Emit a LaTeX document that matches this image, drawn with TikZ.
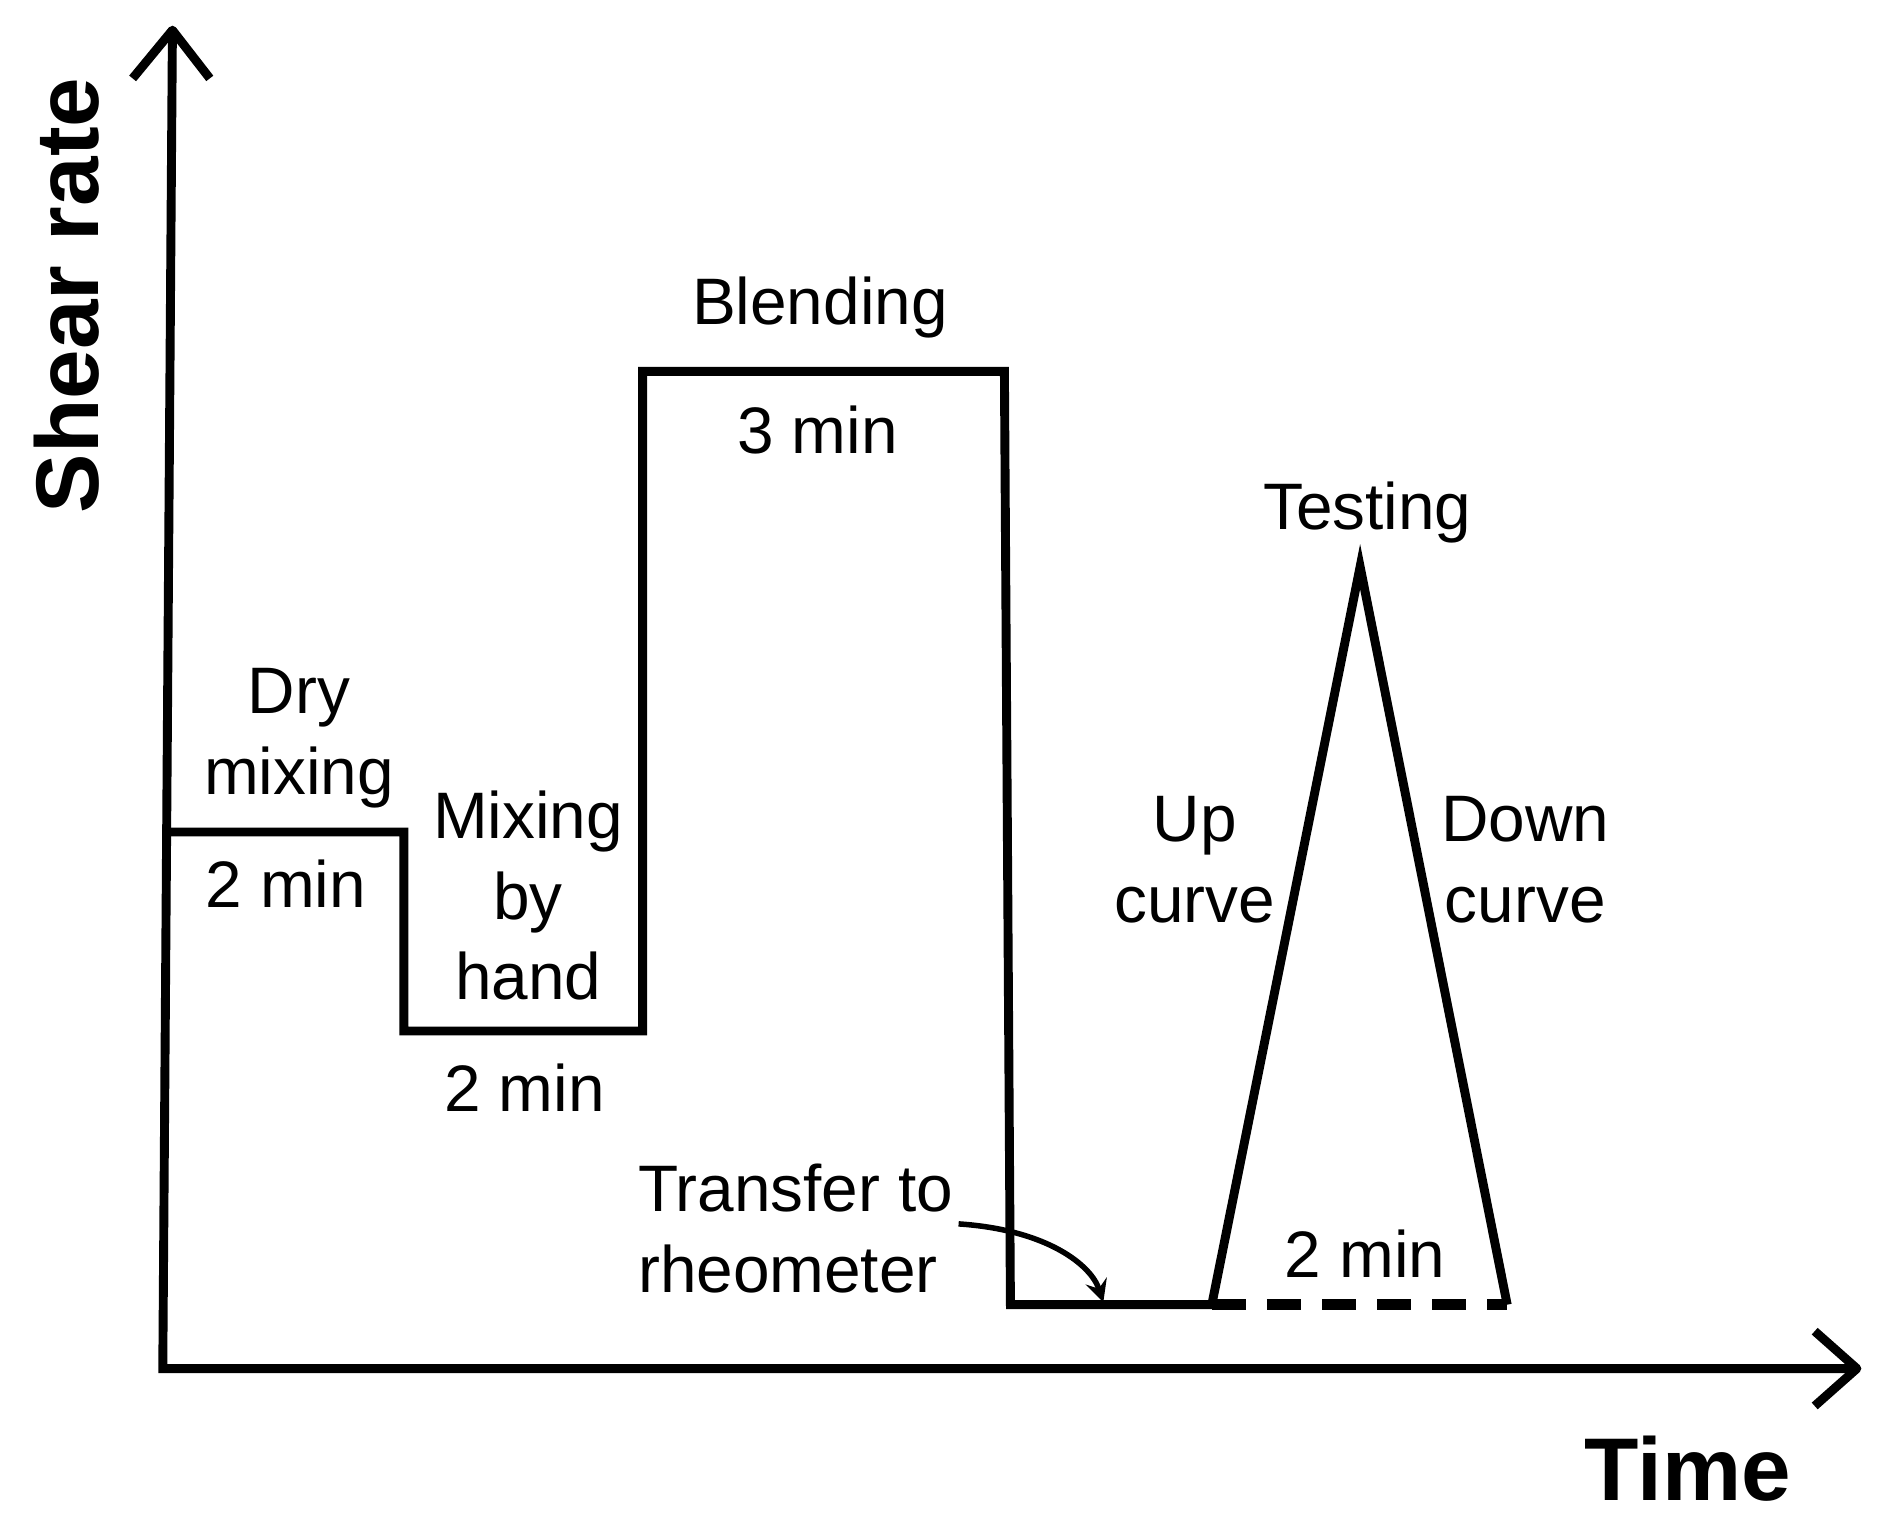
\documentclass[tikz,border=0pt]{standalone}
\usepackage{fontspec}
\setmainfont{Liberation Sans}
\begin{document}
\begin{tikzpicture}[x=0.01cm,y=-0.01cm,
  lbl/.style={font=\fontsize{15.5}{19}\selectfont,align=center,inner sep=0pt},
  ax/.style={font=\fontsize{21}{24}\selectfont\bfseries,inner sep=0pt},
  thick line/.style={line width=2.1pt,line join=miter}]
\useasboundingbox (0,0) rectangle (1560,1265);
\coordinate (o) at (135,1135);
\coordinate (ytop) at (143,25);
\coordinate (xend) at (1540,1135);
\draw[thick line] (ytop) -- (o) -- (xend);
\draw[thick line,line join=round] (110,65) -- (ytop) -- (174,65);
\draw[thick line,line join=round] (1505,1104) -- (xend) -- (1505,1166);
\node[ax,rotate=90] (yl) at (55,245) {Shear rate};
\node[ax] (xl) at (1400,1218) {Time};
% profile
\coordinate (p0) at (140,690);
\coordinate (p1) at (335,690);
\coordinate (p2) at (335,855);
\coordinate (p3) at (533,855);
\coordinate (p4) at (533,308);
\coordinate (p5) at (833,308);
\coordinate (p6) at (838,1082);
\coordinate (p7) at (1005,1082);
\coordinate (p8) at (1128,470);
\coordinate (p9) at (1250,1082);
\draw[thick line] (p0) -- (p1) -- (p2) -- (p3) -- (p4) -- (p5) -- (p6) -- (p7) -- (p8) -- (p9);
\draw[line width=2.6pt,dash pattern=on 8pt off 5pt] (p7) -- (p9);
% labels
\node[lbl] (dry) at (248,612) {Dry\\mixing};
\node[lbl] (t1) at (237,733) {2 min};
\node[lbl] (hand) at (438,743) {Mixing\\by\\hand};
\node[lbl] (t2) at (435,902) {2 min};
\node[lbl] (blend) at (680,255) {Blending};
\node[lbl] (t3) at (678,357) {3 min};
\node[lbl] (test) at (1134,425) {Testing};
\node[lbl] (up) at (991,713) {Up\\curve};
\node[lbl] (down) at (1265,713) {Down\\curve};
\node[lbl] (t4) at (1132,1040) {2 min};
\node[lbl,align=left] (tr) at (660,1019) {Transfer to\\rheometer};
\coordinate (trend) at (915,1080);
\draw[line width=1.3pt,-stealth] (795,1015) .. controls (870,1020) and (905,1050) .. (trend);
\end{tikzpicture}
\end{document}
